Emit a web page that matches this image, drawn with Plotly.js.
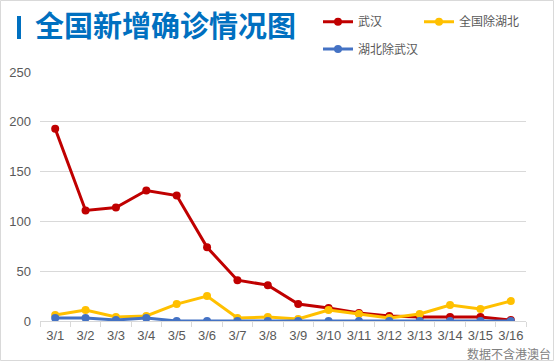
<!DOCTYPE html>
<html><head><meta charset="utf-8">
<script src="https://cdn.plot.ly/plotly-3.0.1.min.js"></script>
<style>html,body{margin:0;padding:0;background:#fff;}#c{width:555px;height:362px;}</style>
</head><body><div id="c"></div>
<script>
const dates = ["3/1","3/2","3/3","3/4","3/5","3/6","3/7","3/8","3/9","3/10","3/11","3/12","3/13","3/14","3/15","3/16"];
const wuhan = [193,111,114,131,126,74,41,36,17,13,8,5,4,4,4,1];
const outsideHubei = [6,11,4,5,17,25,3,4,2,11,7,3,7,16,12,20];
const hubeiExWuhan = [3,3,1,3,0,0,0,0,0,0,0,0,0,0,0,0];
const seriesNames = ["武汉","全国除湖北","湖北除武汉"];
const colors = ["#C00000","#FFC000","#4472C4"];

const W=555,H=362,L=40,R=29,T=72,B=41;
const pw=W-L-R, ph=H-T-B;
const px=x=>(x-L)/pw, py=y=>(H-B-y)/ph;

const mk=(y,i,leg)=>({x:dates,y:y,name:seriesNames[i],type:'scatter',mode:'lines+markers',
  line:{color:colors[i],width:3},marker:{color:colors[i],size:8},legend:leg});
const data=[mk(wuhan,0,'legend'),mk(outsideHubei,1,'legend'),mk(hubeiExWuhan,2,'legend2')];
const legFont={family:'"Noto Sans CJK SC", sans-serif',size:12,color:'#595959'};
const layout={
  width:W,height:H,margin:{l:L,r:R,t:T,b:B},paper_bgcolor:'#fff',plot_bgcolor:'#fff',
  title:{text:'全国新增确诊情况图',xref:'container',yref:'container',x:35/W,xanchor:'left',y:1-27/H,yanchor:'middle',
    font:{family:'"Noto Sans CJK SC", sans-serif',size:29,color:'#0070C0',weight:'bold'}},
  xaxis:{type:'category',range:[-0.5,15.5],tickson:'boundaries',ticks:'outside',ticklen:5,tickcolor:'#d9d9d9',
    tickangle:0,ticklabelstandoff:2,showline:true,linecolor:'#d9d9d9',linewidth:1,showgrid:false,fixedrange:true,
    tickfont:{family:'"Liberation Sans", Arial, sans-serif',size:13,color:'#595959'}},
  yaxis:{range:[0,250],tickvals:[0,50,100,150,200,250],showgrid:true,gridcolor:'#d9d9d9',gridwidth:1,zeroline:false,
    ticks:'',ticklabelstandoff:8,tickfont:{family:'"Liberation Sans", Arial, sans-serif',size:13,color:'#595959'},fixedrange:true},
  showlegend:true,
  legend:{orientation:'h',xref:'container',yref:'container',x:318/W,xanchor:'left',y:1-21.7/H,yanchor:'middle',
    entrywidth:56,font:legFont,bgcolor:'rgba(0,0,0,0)',borderwidth:0},
  legend2:{orientation:'h',xref:'container',yref:'container',x:318/W,xanchor:'left',y:1-49/H,yanchor:'middle',
    font:legFont,bgcolor:'rgba(0,0,0,0)',borderwidth:0},
  shapes:[
    {type:'rect',xref:'paper',yref:'paper',x0:px(17),x1:px(21),y0:py(39),y1:py(16),fillcolor:'#0070C0',line:{width:0}},
    {type:'rect',xref:'paper',yref:'paper',x0:px(0.5),x1:px(553.5),y0:py(360.5),y1:py(0.5),line:{color:'#d9d9d9',width:1}}
  ],
  annotations:[{text:'数据不含港澳台',xref:'paper',yref:'paper',x:px(553),xanchor:'right',y:py(353),yanchor:'middle',
    showarrow:false,font:{family:'"Noto Sans CJK SC", sans-serif',size:12,color:'#808080'}}]
};
Plotly.newPlot('c',data,layout,{displayModeBar:false,staticPlot:true});
</script></body></html>
